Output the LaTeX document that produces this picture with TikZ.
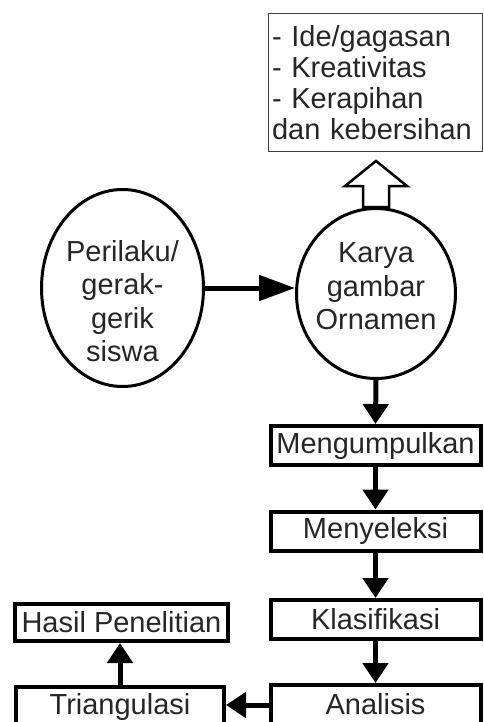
\documentclass[tikz,border=0pt]{standalone}
\usepackage{fontspec}
\setmainfont{Liberation Sans}
\usetikzlibrary{arrows.meta,shapes.geometric}

\tikzset{
  stage/.style={draw=black, line width=4pt, minimum width=210pt, minimum height=39pt, inner sep=0pt, text=black!85, font=\fontsize{29}{33}\selectfont},
  oval/.style={ellipse, draw=black, line width=3pt, inner sep=0pt},
  ovaltext/.style={font=\fontsize{29}{33.5}\selectfont, align=center, text=black!85},
  flow/.style={line width=5pt, -{Triangle[length=20pt,width=25pt]}},
}

\begin{document}
\begin{tikzpicture}[x=1pt, y=-1pt]
\useasboundingbox (0,0) rectangle (484,722);
\clip (0,0) rectangle (484,722);

% criteria box
\node[draw=black!75, line width=1.3pt, minimum width=214pt, minimum height=138pt, text width=207pt, align=left, inner sep=0pt, text=black!85, font=\fontsize{29}{31}\selectfont] (kriteria) at (375.5,82.5) {- Ide/gagasan\\- Kreativitas\\- Kerapihan\\dan kebersihan};

% the two ovals
\node[oval, minimum width=162pt, minimum height=197pt, label={[ovaltext, yshift=-13pt]center:{Perilaku/\\gerak-\\gerik\\siswa}}] (perilaku) at (122.5,288) {};
\node[oval, minimum width=159pt, minimum height=170pt, label={[ovaltext, yshift=7pt]center:{Karya\\gambar\\Ornamen}}] (karya) at (376,293.5) {};

% hollow arrow up to the criteria
\draw[line width=2.5pt, line join=miter] ([xshift=-13pt]karya.north) -- ++(0,-21) -- ++(-18,0) -- ++(31,-25) -- ++(31,25) -- ++(-18,0) -- ++(0,21) -- cycle;

% steps
\node[stage] (kumpul) at (375.5,445.5) {Mengumpulkan};
\node[stage] (seleksi) at (375.5,531) {Menyeleksi};
\node[stage] (klasifikasi) at (375.5,619.5) {Klasifikasi};
\node[stage] (analisis) at (375.5,704.5) {Analisis};
\node[stage, minimum width=208pt] (triangulasi) at (120,706.5) {Triangulasi};
\node[stage, minimum width=213pt, minimum height=37pt] (hasil) at (121.5,622.5) {Hasil Penelitian};

\draw[flow, -{Triangle[length=36pt,width=25pt]}] (perilaku.east) -- (perilaku.east -| karya.west);
\draw[flow] (karya.south) -- (kumpul.north);
\draw[flow] (kumpul.south) -- (seleksi.north);
\draw[flow] (seleksi.south) -- (klasifikasi.north);
\draw[flow] (klasifikasi.south) -- (analisis.north);
\draw[flow] (analisis.west |- 0,705) -- (triangulasi.east |- 0,705);
\draw[flow] (triangulasi.north) -- (triangulasi.north |- hasil.south);

\end{tikzpicture}
\end{document}
